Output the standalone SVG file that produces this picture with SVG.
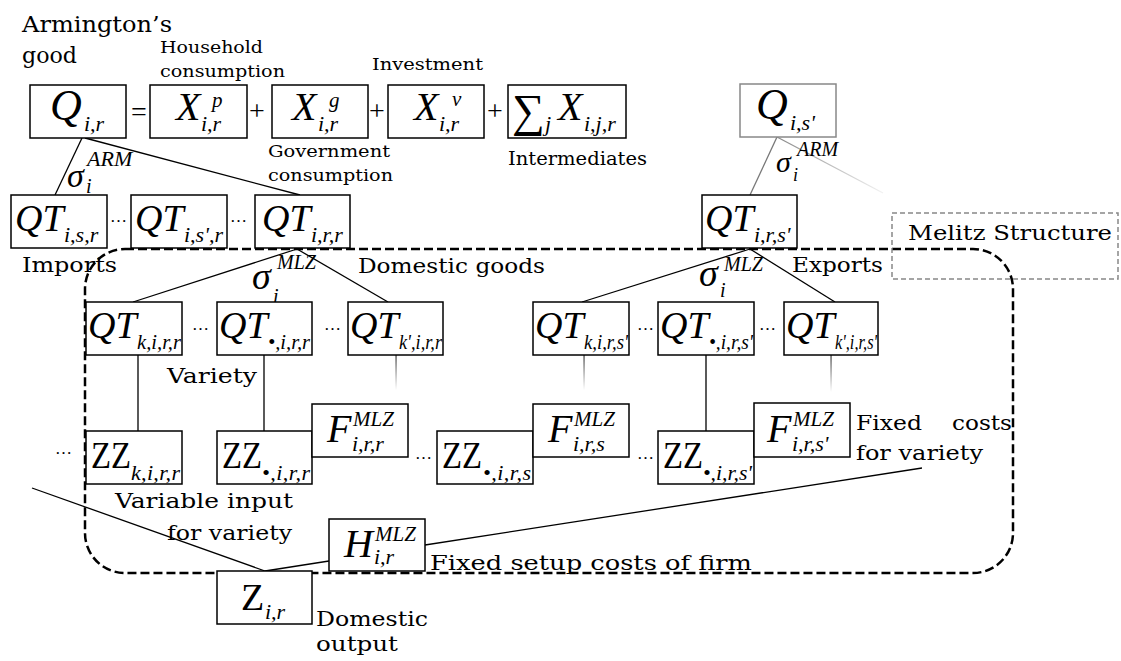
<svg xmlns="http://www.w3.org/2000/svg" width="1121" height="661" viewBox="0 0 1121 661">
  <style>
    .box { fill: #fff; stroke: #000; stroke-width: 1.5; }
    .gbox { fill: #fff; stroke: #888; stroke-width: 1.5; }
    .ln { stroke: #000; stroke-width: 1.3; fill: none; }
    .m { font-family: "Liberation Serif", "Times New Roman", serif; font-style: italic; font-size: 40px; fill: #000; }
    .qt { font-family: "Liberation Serif", "Times New Roman", serif; font-style: italic; font-size: 38px; fill: #000; }
    .mu { font-family: "Liberation Serif", "Times New Roman", serif; font-size: 38px; fill: #000; }
    .s { font-family: "Liberation Serif", "Times New Roman", serif; font-style: italic; font-size: 22px; fill: #000; }
    .sup { font-family: "Liberation Serif", "Times New Roman", serif; font-style: italic; font-size: 21px; fill: #000; }
    .sig { font-family: "Liberation Serif", "Times New Roman", serif; font-style: italic; font-size: 38px; fill: #000; }
    .op { font-family: "Liberation Serif", "Times New Roman", serif; font-size: 28px; fill: #000; }
    .dots { font-family: "Liberation Serif", "Times New Roman", serif; font-size: 17px; fill: #000; }
    .lbl { font-family: "DejaVu Serif", "Liberation Serif", serif; font-size: 21px; fill: #000; }
    .lsm { font-family: "DejaVu Serif", "Liberation Serif", serif; font-size: 17px; fill: #000; }
  </style>
  <defs>
    <linearGradient id="fadeDown" x1="0" y1="0" x2="0" y2="1">
      <stop offset="0" stop-color="#444"/>
      <stop offset="1" stop-color="#fff"/>
    </linearGradient>
    <linearGradient id="fadeDiag" gradientUnits="userSpaceOnUse" x1="777" y1="137" x2="883" y2="193">
      <stop offset="0" stop-color="#888"/>
      <stop offset="1" stop-color="#f2f2f2"/>
    </linearGradient>
  </defs>
  <rect width="1121" height="661" fill="#fff"/>

  <!-- Melitz structure frame -->
  <g id="melitz-frame">
    <rect x="85" y="249" width="928" height="324" rx="40" ry="40" fill="none" stroke="#000" stroke-width="2.5" stroke-dasharray="9 4"/>
    <rect x="892" y="213" width="226" height="66" fill="none" stroke="#888" stroke-width="1.5" stroke-dasharray="5 3"/>
    <text class="lbl" x="908" y="240" textLength="204" lengthAdjust="spacingAndGlyphs">Melitz Structure</text>
  </g>

  <!-- connectors -->
  <g id="connectors">
    <line class="ln" x1="82" y1="138" x2="55" y2="195"/>
    <line class="ln" x1="85" y1="138" x2="300" y2="195"/>
    <line x1="777" y1="137" x2="750" y2="195" stroke="#777" stroke-width="1.3"/>
    <line x1="777" y1="137" x2="883" y2="193" stroke="url(#fadeDiag)" stroke-width="1.3"/>
    <line class="ln" x1="297" y1="249" x2="133" y2="302"/>
    <line class="ln" x1="297" y1="249" x2="388" y2="302"/>
    <line class="ln" x1="750" y1="249" x2="582" y2="302"/>
    <line class="ln" x1="750" y1="249" x2="835" y2="302"/>
    <line class="ln" x1="138" y1="355" x2="138" y2="431"/>
    <line class="ln" x1="264" y1="355" x2="264" y2="431"/>
    <line class="ln" x1="706" y1="355" x2="706" y2="431"/>
    <rect x="395.4" y="355" width="1.3" height="35" fill="url(#fadeDown)"/>
    <rect x="583.4" y="355" width="1.3" height="35" fill="url(#fadeDown)"/>
    <rect x="830.4" y="355" width="1.3" height="37" fill="url(#fadeDown)"/>
    <line class="ln" x1="32" y1="488" x2="265" y2="571"/>
    <line class="ln" x1="265" y1="571" x2="329" y2="561"/>
    <line class="ln" x1="425" y1="545" x2="922" y2="468"/>
  </g>

  <!-- Armington aggregate and its demand components -->
  <g id="Q-ir">
    <rect class="box" x="30" y="85" width="96" height="53"/>
    <text class="m" x="50" y="120" style="font-size:44px">Q</text>
    <text class="s" x="84" y="131">i,r</text>
  </g>
  <text class="op" x="131" y="121">=</text>
  <g id="Xp">
    <rect class="box" x="150" y="85" width="97" height="53"/>
    <text class="m" x="176" y="120">X</text>
    <text class="sup" x="212" y="107">p</text>
    <text class="s" x="201" y="131">i,r</text>
  </g>
  <text class="op" x="249" y="120">+</text>
  <g id="Xg">
    <rect class="box" x="272" y="85" width="96" height="53"/>
    <text class="m" x="292" y="120">X</text>
    <text class="sup" x="329" y="107">g</text>
    <text class="s" x="318" y="131">i,r</text>
  </g>
  <text class="op" x="369" y="120">+</text>
  <g id="Xv">
    <rect class="box" x="388" y="85" width="96" height="53"/>
    <text class="m" x="414" y="120">X</text>
    <text class="sup" x="452" y="106">v</text>
    <text class="s" x="439" y="131">i,r</text>
  </g>
  <text class="op" x="487" y="120">+</text>
  <g id="Xint">
    <rect class="box" x="508" y="85" width="118" height="53"/>
    <text x="512" y="126" style="font-family:'Liberation Serif',serif;font-size:46px">∑</text>
    <text class="s" x="545" y="131">j</text>
    <text class="m" x="558" y="120">X</text>
    <text class="s" x="584" y="131">i,j,r</text>
  </g>
  <g id="Q-is">
    <rect class="gbox" x="740" y="84" width="96" height="53"/>
    <text class="m" x="756" y="119" style="font-size:44px">Q</text>
    <text class="s" x="790" y="130">i,s'</text>
  </g>

  <!-- substitution elasticities -->
  <g id="sigma-arm-r">
    <text class="sig" x="67" y="187" style="font-size:34px">σ</text>
    <text class="s" x="86" y="193" style="font-size:20px">i</text>
    <text class="sup" x="87" y="166" style="font-size:22px">ARM</text>
  </g>
  <g id="sigma-arm-s">
    <text class="sig" x="776" y="172" style="font-size:30px">σ</text>
    <text class="s" x="793" y="181" style="font-size:18px">i</text>
    <text class="sup" x="797" y="156" style="font-size:20px">ARM</text>
  </g>
  <g id="sigma-mlz-r">
    <text class="sig" x="252" y="289">σ</text>
    <text class="s" x="273" y="303" style="font-size:20px">i</text>
    <text class="sup" x="277" y="269" style="font-size:20px">MLZ</text>
  </g>
  <g id="sigma-mlz-s">
    <text class="sig" x="699" y="286">σ</text>
    <text class="s" x="720" y="297" style="font-size:20px">i</text>
    <text class="sup" x="724" y="271" style="font-size:20px">MLZ</text>
  </g>

  <!-- bilateral trade flows -->
  <g id="QT-isr">
    <rect class="box" x="11" y="195" width="96" height="53"/>
    <text class="qt" x="15" y="231">QT</text>
    <text class="s" x="64" y="242">i,s,r</text>
  </g>
  <text class="dots" x="110" y="222">…</text>
  <g id="QT-is2r">
    <rect class="box" x="131" y="195" width="96" height="53"/>
    <text class="qt" x="135" y="231">QT</text>
    <text class="s" x="184" y="242">i,s',r</text>
  </g>
  <text class="dots" x="230" y="222">…</text>
  <g id="QT-irr">
    <rect class="box" x="255" y="195" width="95" height="53"/>
    <text class="qt" x="262" y="231">QT</text>
    <text class="s" x="311" y="242">i,r,r</text>
  </g>
  <g id="QT-irs">
    <rect class="box" x="702" y="195" width="95" height="53"/>
    <text class="qt" x="705" y="231">QT</text>
    <text class="s" x="754" y="242">i,r,s'</text>
  </g>

  <!-- firm varieties -->
  <g id="QT-kirr">
    <rect class="box" x="86" y="302" width="96" height="53"/>
    <text class="qt" x="88" y="338">QT</text>
    <text class="s" x="137" y="349" textLength="44" lengthAdjust="spacingAndGlyphs">k,i,r,r</text>
  </g>
  <text class="dots" x="192" y="330">…</text>
  <g id="QT-dirr">
    <rect class="box" x="217" y="302" width="95" height="53"/>
    <text class="qt" x="219" y="338">QT</text>
    <text class="s" x="268" y="349" textLength="42" lengthAdjust="spacingAndGlyphs">•,i,r,r</text>
  </g>
  <text class="dots" x="324" y="330">…</text>
  <g id="QT-k2irr">
    <rect class="box" x="348" y="302" width="95" height="53"/>
    <text class="qt" x="350" y="338">QT</text>
    <text class="s" x="399" y="349" textLength="43" lengthAdjust="spacingAndGlyphs">k',i,r,r</text>
  </g>
  <g id="QT-kirs">
    <rect class="box" x="533" y="302" width="96" height="53"/>
    <text class="qt" x="535" y="338">QT</text>
    <text class="s" x="584" y="349" textLength="44" lengthAdjust="spacingAndGlyphs">k,i,r,s'</text>
  </g>
  <text class="dots" x="637" y="330">…</text>
  <g id="QT-dirs">
    <rect class="box" x="658" y="302" width="96" height="53"/>
    <text class="qt" x="660" y="338">QT</text>
    <text class="s" x="709" y="349" textLength="44" lengthAdjust="spacingAndGlyphs">•,i,r,s'</text>
  </g>
  <text class="dots" x="759" y="330">…</text>
  <g id="QT-k2irs">
    <rect class="box" x="784" y="302" width="94" height="53"/>
    <text class="qt" x="786" y="338">QT</text>
    <text class="s" x="835" y="349" textLength="42" lengthAdjust="spacingAndGlyphs">k',i,r,s'</text>
  </g>

  <!-- variable inputs and fixed costs per variety -->
  <text class="dots" x="55" y="454">…</text>
  <g id="ZZ-kirr">
    <rect class="box" x="86" y="431" width="96" height="53"/>
    <text class="mu" x="91" y="468" textLength="40" lengthAdjust="spacingAndGlyphs">ZZ</text>
    <text class="s" x="131" y="480" textLength="49">k,i,r,r</text>
  </g>
  <g id="ZZ-dirr">
    <rect class="box" x="217" y="431" width="95" height="53"/>
    <text class="mu" x="222" y="468" textLength="40" lengthAdjust="spacingAndGlyphs">ZZ</text>
    <text class="s" x="262" y="480" textLength="48">•,i,r,r</text>
  </g>
  <g id="F-irr">
    <rect class="box" x="312" y="404" width="96" height="53"/>
    <text class="m" x="327" y="442">F</text>
    <text class="sup" x="353" y="426">MLZ</text>
    <text class="s" x="352" y="451">i,r,r</text>
  </g>
  <text class="dots" x="415" y="459">…</text>
  <g id="ZZ-dirs">
    <rect class="box" x="437" y="431" width="96" height="53"/>
    <text class="mu" x="442" y="468" textLength="40" lengthAdjust="spacingAndGlyphs">ZZ</text>
    <text class="s" x="483" y="480" textLength="48">•,i,r,s</text>
  </g>
  <g id="F-irs">
    <rect class="box" x="533" y="404" width="96" height="53"/>
    <text class="m" x="548" y="442">F</text>
    <text class="sup" x="574" y="426">MLZ</text>
    <text class="s" x="573" y="451">i,r,s</text>
  </g>
  <text class="dots" x="637" y="459">…</text>
  <g id="ZZ-dirs2">
    <rect class="box" x="658" y="431" width="96" height="53"/>
    <text class="mu" x="663" y="468" textLength="40" lengthAdjust="spacingAndGlyphs">ZZ</text>
    <text class="s" x="703" y="480" textLength="49" lengthAdjust="spacingAndGlyphs">•,i,r,s'</text>
  </g>
  <g id="F-irs2">
    <rect class="box" x="754" y="403" width="96" height="54"/>
    <text class="m" x="767" y="442">F</text>
    <text class="sup" x="793" y="426">MLZ</text>
    <text class="s" x="792" y="451">i,r,s'</text>
  </g>

  <!-- firm setup cost and domestic output -->
  <g id="H-ir">
    <rect class="box" x="329" y="519" width="96" height="52"/>
    <text class="m" x="344" y="557">H</text>
    <text class="sup" x="375" y="541">MLZ</text>
    <text class="s" x="374" y="564">i,r</text>
  </g>
  <g id="Z-ir">
    <rect class="box" x="217" y="571" width="95" height="53"/>
    <text class="mu" x="241" y="610">Z</text>
    <text class="s" x="265" y="619">i,r</text>
  </g>

  <!-- labels -->
  <g id="labels">
    <text class="lbl" x="22" y="32" style="font-size:23px" textLength="150" lengthAdjust="spacingAndGlyphs">Armington’s</text>
    <text class="lbl" x="22" y="63" style="font-size:23px" textLength="55" lengthAdjust="spacingAndGlyphs">good</text>
    <text class="lsm" x="160" y="53" textLength="103" lengthAdjust="spacingAndGlyphs">Household</text>
    <text class="lsm" x="160" y="77" textLength="125" lengthAdjust="spacingAndGlyphs">consumption</text>
    <text class="lsm" x="372" y="70" textLength="111" lengthAdjust="spacingAndGlyphs">Investment</text>
    <text class="lsm" x="268" y="157" textLength="122" lengthAdjust="spacingAndGlyphs">Government</text>
    <text class="lsm" x="268" y="181" textLength="125" lengthAdjust="spacingAndGlyphs">consumption</text>
    <text class="lsm" x="508" y="165" style="font-size:18px" textLength="139" lengthAdjust="spacingAndGlyphs">Intermediates</text>
    <text class="lbl" x="22" y="272" textLength="95" lengthAdjust="spacingAndGlyphs">Imports</text>
    <text class="lbl" x="358" y="273" textLength="187" lengthAdjust="spacingAndGlyphs">Domestic goods</text>
    <text class="lbl" x="792" y="272" textLength="91" lengthAdjust="spacingAndGlyphs">Exports</text>
    <text class="lbl" x="167" y="383" textLength="90" lengthAdjust="spacingAndGlyphs">Variety</text>
    <text class="lbl" x="856" y="430" textLength="66" lengthAdjust="spacingAndGlyphs">Fixed</text>
    <text class="lbl" x="952" y="430" textLength="60" lengthAdjust="spacingAndGlyphs">costs</text>
    <text class="lbl" x="856" y="460" textLength="127" lengthAdjust="spacingAndGlyphs">for variety</text>
    <text class="lbl" x="115" y="508" textLength="178" lengthAdjust="spacingAndGlyphs">Variable input</text>
    <text class="lbl" x="167" y="540" textLength="125" lengthAdjust="spacingAndGlyphs">for variety</text>
    <text class="lbl" x="430" y="570" textLength="322" lengthAdjust="spacingAndGlyphs">Fixed setup costs of firm</text>
    <text class="lbl" x="316" y="626" textLength="112" lengthAdjust="spacingAndGlyphs">Domestic</text>
    <text class="lbl" x="316" y="651" textLength="82" lengthAdjust="spacingAndGlyphs">output</text>
  </g>
</svg>
